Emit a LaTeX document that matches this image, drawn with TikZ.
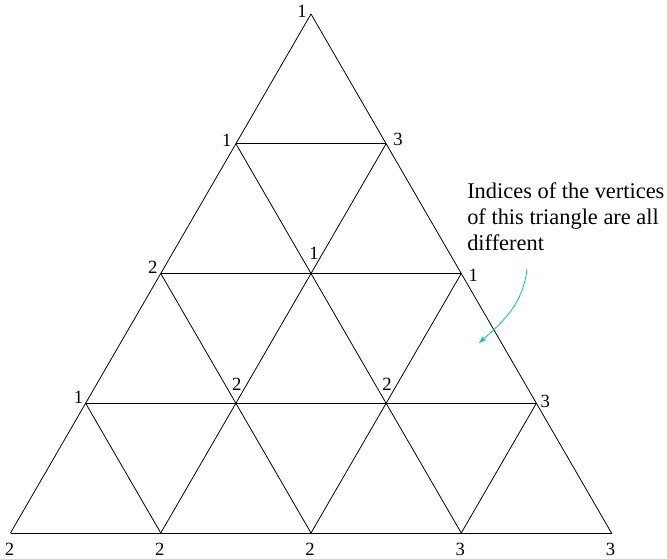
\documentclass[tikz,border=0pt]{standalone}
\usepackage{fontspec}
\setmainfont{Liberation Serif}
\usetikzlibrary{arrows.meta, positioning}
\definecolor{arrowcyan}{RGB}{20,185,185}
\tikzstyle{edge} = [line width=0.6pt, black]
\tikzstyle{idx} = [inner sep=0pt, font=\fontsize{14}{16}\selectfont]
\tikzstyle{pointer} = [-{Stealth[length=6pt, width=4pt]}, line width=0.6pt, arrowcyan]

\begin{document}
\begin{tikzpicture}[x=0.75pt, y=-0.75pt]

		% canvas in pixels of the original
		\useasboundingbox (0,0) rectangle (667,559);

		% vertices v<row><col>
		\foreach \r in {0,...,4}
			\foreach \c in {0,...,\r}
				\coordinate (v\r\c) at ({311+(\c-\r/2)*150.25}, {14+\r*129.75});

		% horizontal lines
		\foreach \r in {1,...,4}
			\draw[edge] (v\r0) -- (v\r\r);
		% lines parallel to the left side
		\foreach \c in {0,...,3}
			\draw[edge] (v\c\c) -- (v4\c);
		% lines parallel to the right side
		\foreach \d [evaluate=\d as \e using int(4-\d)] in {0,...,3}
			\draw[edge] (v\d0) -- (v4\e);

		% indices
		\node[idx] (n00) at ([shift={(-9,-3)}]v00) {1};
		\node[idx] (n10) at ([shift={(-9,-3)}]v10) {1};
		\node[idx] (n11) at ([shift={(12,-4)}]v11) {3};
		\node[idx] (n20) at ([shift={(-8,-6)}]v20) {2};
		\node[idx] (n21) at ([shift={(3,-20)}]v21) {1};
		\node[idx] (n22) at ([shift={(12,2)}]v22) {1};
		\node[idx] (n30) at ([shift={(-7,-6)}]v30) {1};
		\node[idx] (n31) at ([shift={(1,-19)}]v31) {2};
		\node[idx] (n32) at ([shift={(1,-19)}]v32) {2};
		\node[idx] (n33) at ([shift={(9,-2)}]v33) {3};
		\foreach \c [evaluate=\c as \k using int(\c)] in {0,...,4}
			\node[idx] (n4\k) at ([shift={(-1,16)}]v4\k) {\ifnum\k<3 2\else 3\fi};

		% annotation
		\node[anchor=north west, align=left, inner sep=0pt,
			font=\fontsize{16.8}{19.5}\selectfont] (note) at (467,182)
			{Indices of the vertices\\of this triangle are all\\different};
		\coordinate (tail) at (527,269);
		\coordinate (tip) at (479,343);
		\draw[pointer] (tail) .. controls (523,303) and (505,320) .. (tip);

\end{tikzpicture}
\end{document}
